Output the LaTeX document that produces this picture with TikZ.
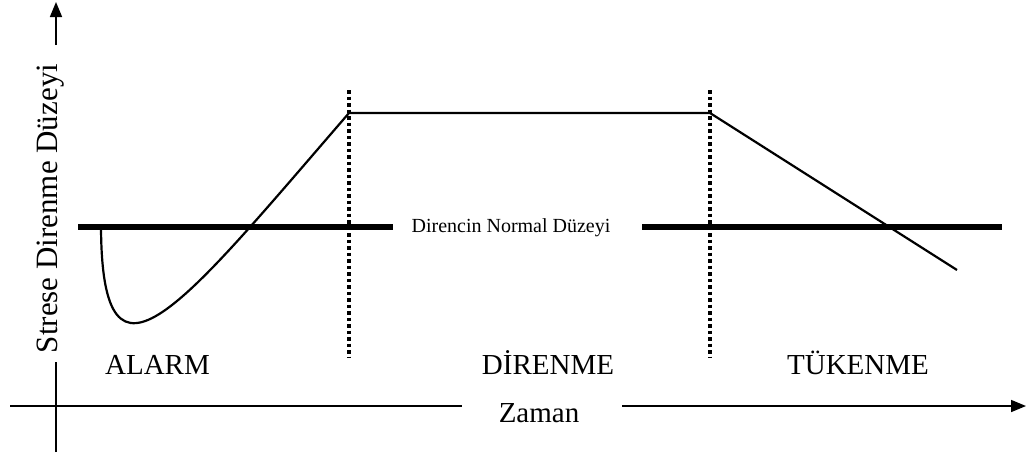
\documentclass[tikz,border=0pt]{standalone}
\usepackage{fontspec}
\setmainfont{Liberation Serif}
\usetikzlibrary{arrows.meta}
\begin{document}
\begin{tikzpicture}[x=1pt,y=-1pt,
  axis/.style={line width=1.6pt},
  normline/.style={line width=6pt},
  curve/.style={line width=2.2pt, line join=round},
  phase/.style={line width=3.5pt, dash pattern=on 3.5pt off 3pt},
  biglabel/.style={font=\fontsize{29}{34}\selectfont, inner sep=0pt, anchor=base},
  smalllabel/.style={font=\fontsize{20}{24}\selectfont, inner sep=0pt, anchor=base},
  vlabel/.style={font=\fontsize{31}{36}\selectfont, inner sep=0pt, anchor=base, rotate=90},
  tip/.style={-{Triangle[length=15pt,width=12pt]}}]
\useasboundingbox (0,0) rectangle (1027,458);

% axes
\coordinate (ybot) at (56,452);
\coordinate (ylow) at (56,362);
\coordinate (yup) at (56,45);
\coordinate (ytip) at (56,2);
\coordinate (xstart) at (10,406);
\coordinate (xmid) at (462,406);
\coordinate (xres) at (622,406);
\coordinate (xtip) at (1026,406);
\node[vlabel] (ylab) at (57,208.5) {Strese Direnme Düzeyi};
\node[biglabel] (zaman) at (539,422) {Zaman};
\draw[axis] (ybot) -- (ylow);
\draw[axis,tip] (yup) -- (ytip);
\draw[axis] (xstart) -- (xmid);
\draw[axis,tip] (xres) -- (xtip);

% normal level
\coordinate (n1) at (78,227);
\coordinate (n2) at (393,227);
\coordinate (n3) at (642,227);
\coordinate (n4) at (1002,227);
\draw[normline] (n1) -- (n2);
\draw[normline] (n3) -- (n4);
\node[smalllabel] (normal) at (511,232) {Direncin Normal Düzeyi};

% phase separators
\coordinate (d1t) at (349,90);
\coordinate (d1b) at (349,358);
\coordinate (d2t) at (710,90);
\coordinate (d2b) at (710,358);
\draw[phase] (d1t) -- (d1b);
\draw[phase] (d2t) -- (d2b);

% resistance curve
\coordinate (c0) at (101,227);
\coordinate (c1) at (349,113);
\coordinate (c2) at (710,113);
\coordinate (c3) at (957,270);
\draw[curve] (c0) .. controls (102,412) and (182,306) .. (c1) -- (c2) -- (c3);

% phase labels
\node[biglabel] (alarm) at (157.5,374) {ALARM};
\node[biglabel] (diren) at (548,374) {DİRENME};
\node[biglabel] (tuken) at (858,374) {TÜKENME};
\end{tikzpicture}
\end{document}
